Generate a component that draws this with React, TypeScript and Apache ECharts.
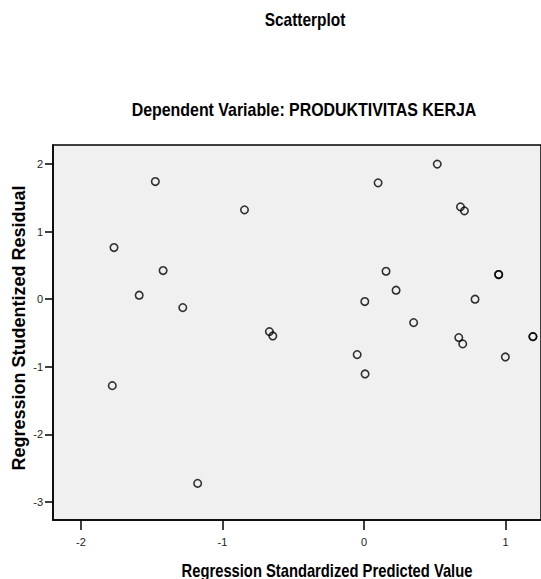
import React, { useEffect, useRef } from "react";
import * as echarts from "echarts";

const chartTitle = "Scatterplot";
const chartSubtitle = "Dependent Variable: PRODUKTIVITAS KERJA";
const xAxisName = "Regression Standardized Predicted Value";
const yAxisName = "Regression Studentized Residual";

const xTicks = [-2, -1, 0, 1];
const yTicks = [-3, -2, -1, 0, 1, 2];

const predicted = [
  -1.474, -0.844, -1.766, -1.419, -1.588, -1.28, -0.668, -0.644, -1.778, -1.175,
  0.518, 0.1, 0.682, 0.71, 0.156, 0.952, 0.952, 0.227, 0.006, 0.785, 0.351,
  0.67, 0.698, 1.194, 1.194, -0.048, 0.008, 0.999,
];
const residual = [
  1.742, 1.323, 0.765, 0.424, 0.059, -0.124, -0.48, -0.544, -1.28, -2.726,
  2.0, 1.723, 1.367, 1.308, 0.414, 0.365, 0.365, 0.133, -0.035, 0.0, -0.346,
  -0.568, -0.662, -0.554, -0.554, -0.82, -1.107, -0.855,
];

const SANS = '"Liberation Sans", Arial, sans-serif';

export default function App() {
  const ref = useRef<HTMLDivElement>(null);
  useEffect(() => {
    if (!ref.current) return;
    const chart = echarts.init(ref.current, undefined, { renderer: "svg" });
    const points = predicted.map((x, i) => [x, residual[i]]);
    chart.setOption({
      animation: false,
      backgroundColor: "#ffffff",
      grid: {
        left: 53,
        top: 145,
        right: -2,
        bottom: 59,
        show: true,
        backgroundColor: "#f0f0f0",
        borderColor: "#000",
        borderWidth: 1.5,
      },
      xAxis: {
        type: "value",
        min: -2.197,
        max: 1.251,
        splitLine: { show: false },
        axisLine: { show: true, onZero: false, lineStyle: { color: "#000", width: 1.5 } },
        axisTick: {
          show: true,
          length: 10,
          lineStyle: { color: "#000", width: 1.5 },
          customValues: xTicks,
        },
        axisLabel: {
          customValues: xTicks,
          margin: 16,
          color: "#222",
          fontSize: 11,
          fontFamily: SANS,
          showMinLabel: true,
          showMaxLabel: true,
        },
      },
      yAxis: {
        type: "value",
        min: -3.269,
        max: 2.283,
        splitLine: { show: false },
        axisLine: { show: true, onZero: false, lineStyle: { color: "#000", width: 1.5 } },
        axisTick: {
          show: true,
          length: 8,
          lineStyle: { color: "#000", width: 1.5 },
          customValues: yTicks,
        },
        axisLabel: {
          customValues: yTicks,
          margin: 10,
          color: "#222",
          fontSize: 11,
          fontFamily: SANS,
          showMinLabel: true,
          showMaxLabel: true,
        },
      },
      series: [
        {
          type: "scatter",
          data: points,
          symbol: "circle",
          symbolSize: 7.5,
          clip: false,
          itemStyle: {
            color: "rgba(0,0,0,0)",
            borderColor: "#000",
            borderWidth: 1.6,
          },
        },
      ],
      graphic: [
        {
          type: "text",
          x: 305,
          y: 20,
          scaleX: 0.86,
          style: {
            text: chartTitle,
            fontSize: 18,
            fontWeight: "bold",
            fontFamily: SANS,
            fill: "#000",
            textAlign: "center",
            textVerticalAlign: "middle",
          },
        },
        {
          type: "text",
          x: 304,
          y: 110,
          scaleX: 0.885,
          style: {
            text: chartSubtitle,
            fontSize: 18,
            fontWeight: "bold",
            fontFamily: SANS,
            fill: "#000",
            textAlign: "center",
            textVerticalAlign: "middle",
          },
        },
        {
          type: "text",
          x: 327,
          y: 570,
          scaleX: 0.82,
          style: {
            text: xAxisName,
            fontSize: 18,
            fontWeight: "bold",
            fontFamily: SANS,
            fill: "#000",
            textAlign: "center",
            textVerticalAlign: "middle",
          },
        },
        {
          type: "text",
          x: 18.5,
          y: 328,
          rotation: Math.PI / 2,
          style: {
            text: yAxisName,
            fontSize: 18,
            fontWeight: "bold",
            fontFamily: SANS,
            fill: "#000",
            textAlign: "center",
            textVerticalAlign: "middle",
          },
        },
      ],
    });
    return () => chart.dispose();
  }, []);
  return (
    <div
      ref={ref}
      style={{ position: "absolute", left: 0, top: 0, width: 541, height: 579 }}
    />
  );
}
